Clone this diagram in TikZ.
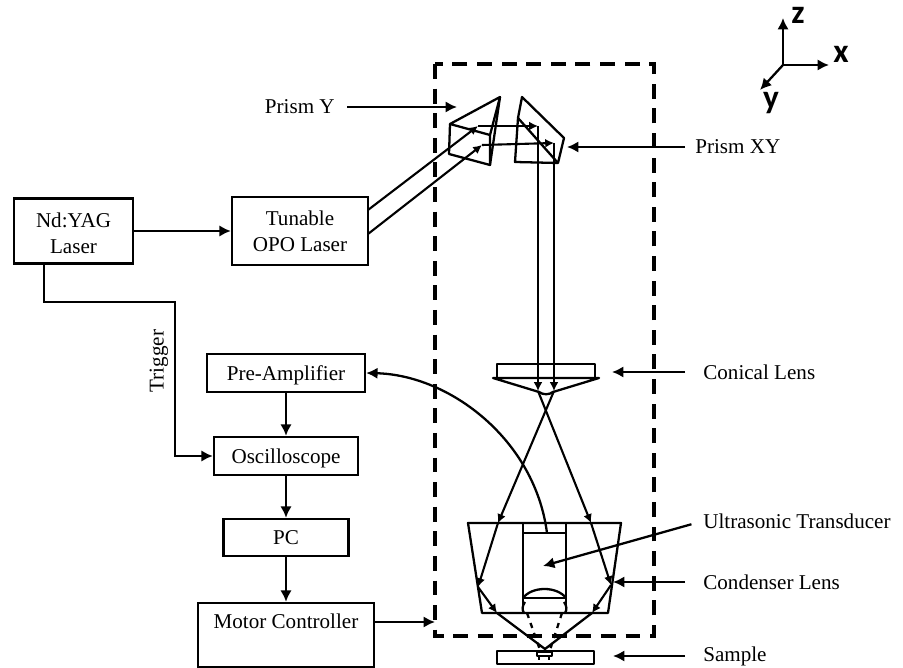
\documentclass[tikz,border=0pt]{standalone}
\usepackage{fontspec}
\setmainfont{Liberation Serif}
\newfontfamily\axisfont{Carlito}
\usetikzlibrary{arrows.meta, positioning}

\tikzset{
	boxnode/.style n args={2}{draw, line width=1.3pt, inner sep=0pt, align=center,
		minimum width=#1*0.02cm, minimum height=#2*0.02cm},
	textlow/.style={text height=9.5pt, text depth=1pt},
	labelnode/.style={inner sep=0pt, anchor=west},
	axisnode/.style={inner sep=0pt, font=\axisfont\bfseries\fontsize{19pt}{19pt}\selectfont},
	link/.style={line width=1.3pt, -{Latex[length=6.5pt,width=6.5pt]}},
	pointer/.style={link, shorten <=#1*0.02cm},
	beam/.style={line width=1.2pt, -{Latex[length=5pt,width=5pt]}},
	part/.style={line width=1.3pt, line join=round},
	framebox/.style={line width=2.1pt, dash pattern=on 8.5pt off 5.5pt}
}

\begin{document}
\begin{tikzpicture}[x=0.02cm, y=-0.02cm]
	
	% Stil für alle Knoten
	\tikzset{every node/.append style={font=\fontsize{12pt}{15pt}\selectfont}}
	\useasboundingbox (0,0) rectangle (903,668);
	
	% Geraete links
	\node[boxnode={119}{65}] (yag) at (73.5,231) {\rule{0pt}{11pt}Nd:YAG\\Laser};
	\node[boxnode={136}{68}] (opo) at (300,231) {Tunable\\OPO Laser};
	\node[boxnode={158}{38}, textlow] (pre) at (286,373) {Pre-Amplifier};
	\node[boxnode={144}{38}, textlow] (osc) at (286,456) {Oscilloscope};
	\node[boxnode={125}{37}, textlow] (pc) at (286,537.5) {PC};
	\node[boxnode={176}{64}, text depth=16pt] (motor) at (286,635) {Motor Controller};
	\node[rotate=90] (trigger) at (159,361) {Trigger};
	
	\draw[link] (yag) -- (opo);
	\draw[link] (pre) -- (osc);
	\draw[link] (osc) -- (pc);
	\draw[link] (pc) -- (motor);
	\coordinate (trigA) at (44,302);
	\coordinate (trigB) at (175,302);
	\draw[link] (yag.south -| trigA) -- (trigA) -- (trigB) -- (trigB |- osc.west) -- (osc.west);
	\coordinate (frameW) at (435,622);
	\draw[link] (motor.east |- frameW) -- (frameW);
	
	% gestrichelter Rahmen
	\draw[framebox] (435,64) rectangle (654,636);
	
	% Prismen
	\draw[part] (450,124) -- (500,97) -- (490,135) -- cycle;
	\draw[part] (450,124) -- (449,154) -- (490,165) -- (490,135);
	\draw[part] (500,97) -- (490,165);
	\draw[part] (518,118) -- (522,97) -- (564,138) -- (558,163) -- (515,162) -- cycle;
	\draw[part] (518,118) -- (558,163);
	
	% Strahlengang oben
	\coordinate (beamA) at (368,210);
	\coordinate (beamB) at (368,234);
	\coordinate (prismA) at (478,126);
	\coordinate (prismB) at (482,145);
	\coordinate (turnA) at (538,126);
	\coordinate (turnB) at (554,143);
	\coordinate (coneA) at (538,391);
	\coordinate (coneB) at (554,391);
	\draw[beam] (beamA) -- (prismA);
	\draw[beam] (beamB) -- (prismB);
	\draw[beam] (prismA) -- (turnA);
	\draw[beam] (prismB) -- (turnB);
	\draw[beam] (turnA) -- (coneA);
	\draw[beam] (turnB) -- (coneB);
	
	% konische Linse
	\draw[part] (497,364) rectangle (595,378);
	\draw[part] (493,378) -- (599,378) -- (553,392) .. controls (549,395) and (543,395) .. (539,392) -- cycle;
	
	% Kondensor
	\draw[part] (468,523) -- (621,523) -- (608,613) -- (482,613) -- cycle;
	\draw[part] (523,523) -- (523,613);
	\draw[part] (566,523) -- (566,613);
	\draw[part] (523,533) -- (566,533);
	\draw[part] (523,598) -- (566,598);
	\draw[part] (523,598) .. controls (532,586) and (557,586) .. (566,598);
	\draw[part] (525,602) .. controls (522,606) and (522,610) .. (524,613);
	\draw[part] (564,602) .. controls (567,606) and (567,610) .. (565,613);
	
	% Strahlengang unten
	\coordinate (lensL) at (498,523);
	\coordinate (lensR) at (591,523);
	\coordinate (wallL) at (478,587);
	\coordinate (wallR) at (611,585);
	\coordinate (exitL) at (497,613);
	\coordinate (exitR) at (592,613);
	\coordinate (focus) at (545,649);
	\draw[beam] (coneB) -- (lensL);
	\draw[beam] (coneA) -- (lensR);
	\draw[beam] (lensL) -- (wallL);
	\draw[beam] (lensR) -- (wallR);
	\draw[beam] (wallL) -- (exitL);
	\draw[beam] (wallR) -- (exitR);
	\draw[part] (exitL) -- (focus) -- (exitR);
	\draw[part, dashed] (527,613) -- (540,650);
	\draw[part, dashed] (562,613) -- (550,650);
	
	% Probe
	\draw[part] (497,651) rectangle (594,664);
	\draw[part] (537,652) rectangle (552,656);
	\draw[part] (539,656) -- (539,660);
	\draw[part] (549,656) -- (549,660);
	
	% Kabel zum Verstaerker
	\coordinate (wire) at (547,533);
	\draw[link] (wire) .. controls (535,440) and (450,375) .. (pre.east);
	
	% Beschriftungen
	\node[labelnode, anchor=east] (lprismy) at (335,107) {Prism Y};
	\node[labelnode] (lprismxy) at (695,147) {Prism XY};
	\node[labelnode] (lconical) at (703,372) {Conical Lens};
	\node[labelnode] (ltrans) at (703,521) {Ultrasonic Transducer};
	\node[labelnode] (lcond) at (703,582) {Condenser Lens};
	\node[labelnode] (lsample) at (703,656) {Sample};
	
	\coordinate (tipY) at (457,107);
	\coordinate (tipXY) at (567,147);
	\coordinate (tipCone) at (612,372);
	\coordinate (tipTrans) at (543,566);
	\coordinate (tipCond) at (613,582);
	\coordinate (tipSample) at (613,656);
	\draw[pointer=12] (lprismy.east) -- (tipY);
	\draw[pointer=10] (lprismxy.west) -- (tipXY);
	\draw[pointer=18] (lconical.west) -- (tipCone);
	\draw[pointer=12] (ltrans.west) -- (tipTrans);
	\draw[pointer=18] (lcond.west) -- (tipCond);
	\draw[pointer=18] (lsample.west) -- (tipSample);
	
	% Achsen
	\coordinate (axis) at (783,65);
	\coordinate (axisZ) at (783,18);
	\coordinate (axisX) at (829,65);
	\coordinate (axisY) at (760,90);
	\draw[link] (axis) -- (axisZ);
	\draw[link] (axis) -- (axisX);
	\draw[link] (axis) -- (axisY);
	\node[axisnode] (labz) at (798,15) {z};
	\node[axisnode] (labx) at (841,54) {x};
	\node[axisnode] (laby) at (771,103) {y};
	
\end{tikzpicture}
\end{document}
